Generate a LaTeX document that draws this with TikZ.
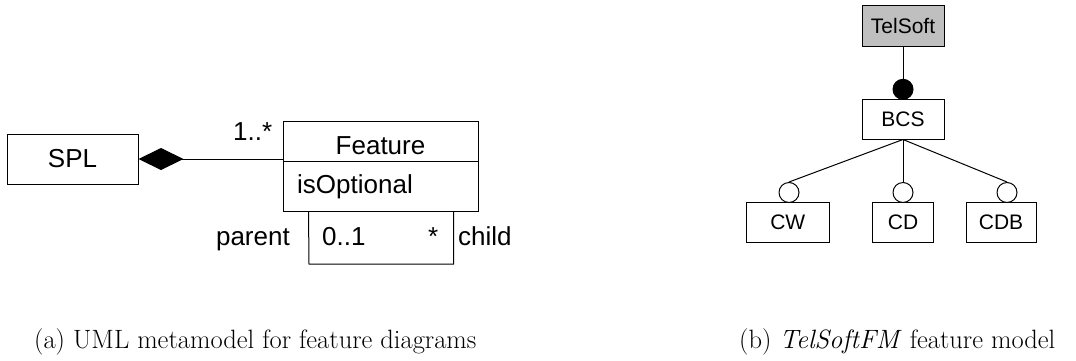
\documentclass[tikz,border=0pt]{standalone}
\usepackage{fontspec}
\newfontfamily\arial{Liberation Sans}
\usetikzlibrary{arrows.meta}
\tikzset{
  line/.style={line width=1pt, black},
  umlbox/.style={draw, line width=1pt, inner sep=0pt, font=\arial\fontsize{26}{30}\selectfont},
  umltext/.style={inner sep=0pt, font=\arial\fontsize{26}{30}\selectfont},
  fmbox/.style={draw, line width=1pt, inner sep=0pt, minimum height=40pt, font=\arial\fontsize{21}{25}\selectfont},
  optc/.style={circle, draw, line width=1pt, fill=white, minimum size=20pt, inner sep=0pt},
  mandc/.style={circle, draw, line width=1pt, fill=black, minimum size=20pt, inner sep=0pt},
  caption/.style={inner sep=0pt, font=\fontsize{26.5}{30}\selectfont}
}
\begin{document}
\begin{tikzpicture}[x=1pt,y=-1pt]
\useasboundingbox (0,0) rectangle (1076,360);
% ---------- (a) UML metamodel ----------
\node[umlbox, minimum width=131pt, minimum height=50pt] (spl) at (72.5,159) {SPL};
\node[draw, line width=1pt, minimum width=195pt, minimum height=90pt, inner sep=0pt] (feat) at (380.5,166) {};
\draw[line] (feat.west |- 0,161) coordinate (divl) -- (feat.east |- 0,161) coordinate (divr);
\node[umltext, anchor=base] (featname) at (380.5,154) {Feature};
\node[umltext, anchor=base west] (attr) at (297,193) {isOptional};
\draw[line, {Diamond[length=45pt,width=22pt]}-] (spl.east) -- (spl.east -| feat.west);
\node[umltext, anchor=base west] (mult1) at (233,140) {1..*};
\coordinate (selfa) at ([xshift=26pt]feat.south west);
\coordinate (selfb) at ([xshift=-25pt]feat.south east);
\coordinate (selfc) at (309,264);
\draw[line] (selfa) -- (selfc) -| (selfb);
\node[umltext, anchor=base east] (parent) at (290,245) {parent};
\node[umltext, anchor=base west] (m01) at (322,245) {0..1};
\node[umltext, anchor=base west] (mstar) at (428,245) {*};
\node[umltext, anchor=base west] (child) at (458,245) {child};
\node[caption, anchor=base west] (capa) at (34,348) {(a) UML metamodel for feature diagrams};
% ---------- (b) feature model ----------
\node[fmbox, fill=black!25, minimum width=82pt, minimum height=41pt] (tel) at (903,25.5) {TelSoft};
\node[fmbox, minimum width=82pt] (bcs) at (903,119) {BCS};
\node[fmbox, minimum width=83.5pt] (cw) at (787.75,222.5) {CW};
\node[fmbox, minimum width=60.6pt] (cd) at (903,222.5) {CD};
\node[fmbox, minimum width=70pt] (cdb) at (1001,222.5) {CDB};
\node[mandc] (mand) at (903,89.3) {};
\node[optc] (ocw) at (789,192.5) {};
\node[optc] (ocd) at (903,192.5) {};
\node[optc] (ocdb) at (1007,192.5) {};
\draw[line] (tel.south) -- (mand.north);
\draw[line] (bcs.south) -- (ocw.north);
\draw[line] (bcs.south) -- (ocd.north);
\draw[line] (bcs.south) -- (ocdb.north);
\node[caption, anchor=base west] (capb) at (739,348) {(b) \textit{TelSoftFM} feature model};
\end{tikzpicture}
\end{document}
